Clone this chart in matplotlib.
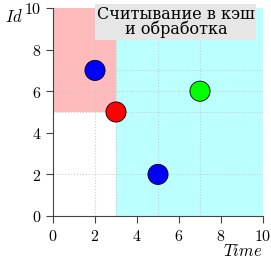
import matplotlib.pyplot as plt
from matplotlib.patches import Rectangle

plt.rcParams['mathtext.fontset'] = 'cm'
plt.rcParams['font.family'] = ['DejaVu Serif']

# data points
xs = [2, 3, 7, 5]
ys = [7, 5, 6, 2]
colors = ['#0000ff', '#ff0000', '#00ff00', '#0000ff']

# shaded regions: (x0, y0, width, height, color)
regions = [(0, 5, 3, 5, '#ffbbbb'), (3, 0, 7, 10, '#bbffff')]
ticks = [0, 2, 4, 6, 8, 10]
title = 'Считывание в кэш\nи обработка'

fig = plt.figure(figsize=(2.71, 2.61), dpi=100)
ax = fig.add_axes([53 / 271, 45 / 261, 210 / 271, 208 / 261])

for x0, y0, w, h, c in regions:
    ax.add_patch(Rectangle((x0, y0), w, h, facecolor=c, edgecolor='none', zorder=0))

for x in xs:
    ax.axvline(x, color='#cccccc', ls=':', lw=0.8, zorder=1)
for y in ys:
    ax.axhline(y, color='#cccccc', ls=':', lw=0.8, zorder=1)

ax.scatter(xs, ys, s=210, c=colors, edgecolors='black', linewidths=0.6, zorder=3)

ax.set_xlim(0, 10)
ax.set_ylim(0, 10)
ax.set_xticks(ticks)
ax.set_yticks(ticks)
ax.set_xticklabels([f'${t}$' for t in ticks], fontsize=11.5)
ax.set_yticklabels([f'${t}$' for t in ticks], fontsize=11.5)
ax.tick_params(direction='out', length=5, width=0.8, color='#444444')

for s in ['top', 'right']:
    ax.spines[s].set_visible(False)
for s in ['left', 'bottom']:
    ax.spines[s].set_color('#444444')
    ax.spines[s].set_linewidth(0.8)

ax.text(5.85, 10.1, title, ha='center', va='top', fontsize=11.5, linespacing=0.85,
        family='DejaVu Serif',
        bbox=dict(facecolor='#e6e6e6', edgecolor='none', pad=1.0), zorder=4)

fig.text(14 / 271, 1 - 18 / 261, '$Id$', fontsize=12, ha='center', va='center')
fig.text(243 / 271, 1 - 252 / 261, '$Time$', fontsize=12, ha='center', va='center')

plt.savefig('out.png', dpi=100)
plt.close()
